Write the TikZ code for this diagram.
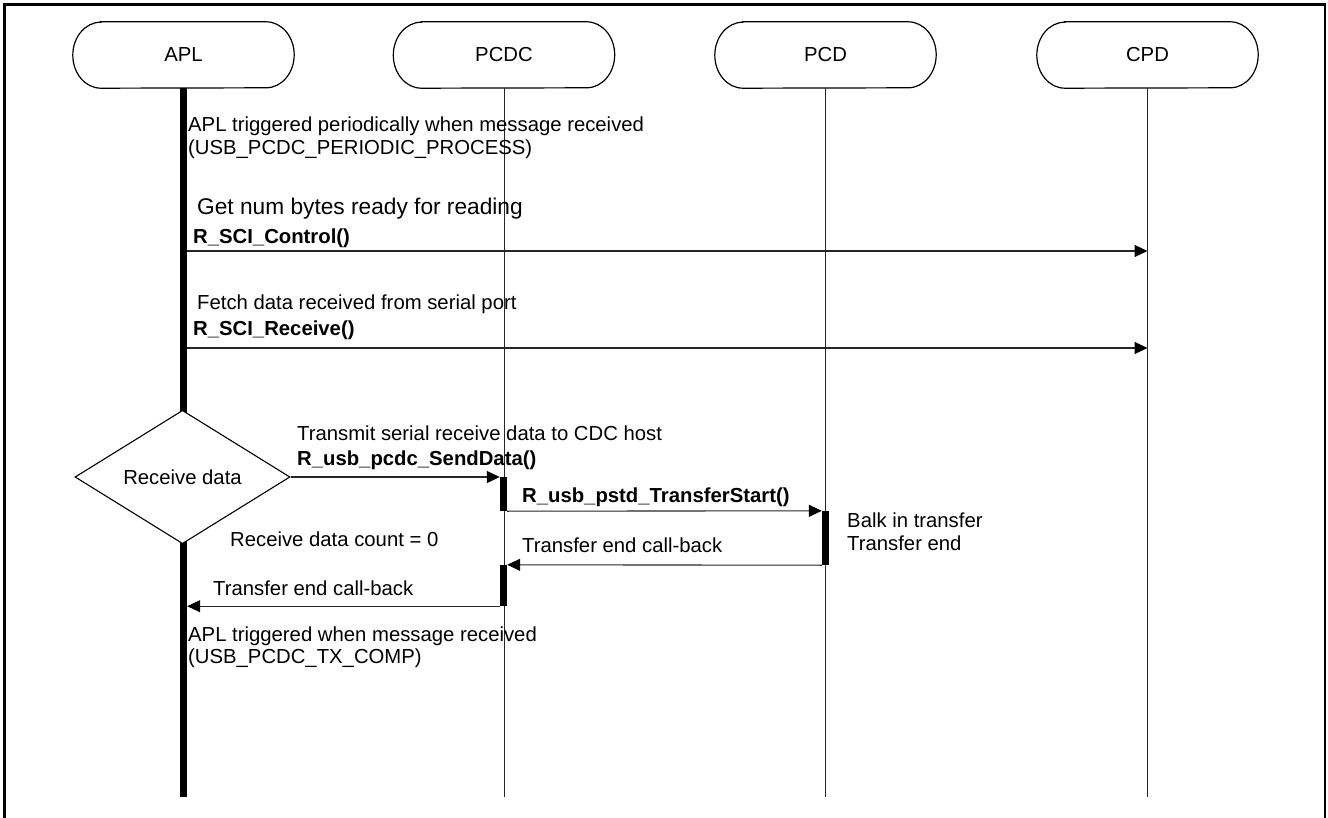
\documentclass[tikz,border=0pt]{standalone}
\usepackage{fontspec}
\setmainfont{Liberation Sans}
\usetikzlibrary{shapes.geometric,arrows.meta,calc}
\begin{document}
\begin{tikzpicture}[x=1pt,y=-1pt,
  hdr/.style={minimum width=221pt,minimum height=66pt,inner sep=0pt,font=\fontsize{20.3}{24}\selectfont},
  txt/.style={anchor=base west,inner sep=0pt,font=\fontsize{20.3}{24}\selectfont},
  bigtxt/.style={anchor=base west,inner sep=0pt,font=\fontsize{22.7}{26}\selectfont},
  btxt/.style={anchor=base west,inner sep=0pt,font=\fontsize{20.3}{24}\selectfont\bfseries},
  life/.style={line width=1pt,black!85},
  msg/.style={line width=1.1pt,black!85,-{Triangle[length=13pt,width=12pt,black]}},
  act/.style={fill=black,draw=none,minimum width=7pt,inner sep=0pt},
  frame/.style={line width=2.5pt,black},
  hdrline/.style={line width=1.2pt,black}
]
\useasboundingbox (0,0) rectangle (1328,818);
\draw[frame] (4.5,830) -- (4.5,4.5) -- (1325,4.5) -- (1325,830);

% headers
\node[hdr] (apl)  at (183.5,55) {APL};
\node[hdr] (pcdc) at (504,55) {PCDC};
\node[hdr] (pcd)  at (825.5,55) {PCD};
\node[hdr] (cpd)  at (1147.5,55) {CPD};
\foreach \n in {apl,pcdc,pcd,cpd}{
  \draw[hdrline] ([xshift=28pt]\n.north west) -- ([xshift=-28pt]\n.north east)
    arc[start angle=90,end angle=-90,x radius=28pt,y radius=33pt]
    -- ([xshift=28pt]\n.south west)
    arc[start angle=270,end angle=90,x radius=28pt,y radius=33pt] -- cycle;
}

\coordinate (bot) at (0,797);
\coordinate (m1) at (0,251);
\coordinate (m2) at (0,348);

% lifelines
\draw[life] (pcdc.south) -- (pcdc.south |- bot);
\draw[life] (pcd.south) -- (pcd.south |- bot);
\draw[life] (cpd.south) -- (cpd.south |- bot);

% APL thick bars and decision
\node[act,minimum height=326pt] (aplb1) at (183.5,251) {};
\node[act,minimum height=257pt] (aplb2) at (183.5,668.5) {};
\node[diamond,draw,line width=1.1pt,minimum width=215pt,minimum height=126pt,inner sep=0pt,
      font=\fontsize{20.3}{24}\selectfont,fill=white] (dia) at (182.5,477) {Receive data};

% activation bars
\node[act,minimum height=34pt] (b1) at (503.5,494) {};
\node[act,minimum height=54pt] (b2) at (825.5,538) {};
\node[act,minimum height=41pt] (b3) at (503.5,585.5) {};

% texts
\node[txt] (t1) at (188,132) {APL triggered periodically when message received};
\node[txt] (t2) at (188,155) {(USB\_PCDC\_PERIODIC\_PROCESS)};
\node[bigtxt] (t3) at (197,215) {Get num bytes ready for reading};
\node[btxt] (t4) at (193,244) {R\_SCI\_Control()};
\node[txt] (t5) at (197,310) {Fetch data received from serial port};
\node[btxt] (t6) at (193,335) {R\_SCI\_Receive()};
\node[txt] (t7) at (297,440) {Transmit serial receive data to CDC host};
\node[btxt] (t8) at (297,465) {R\_usb\_pcdc\_SendData()};
\node[btxt] (t9) at (522,502) {R\_usb\_pstd\_TransferStart()};
\node[txt] (t10) at (847,527) {Balk in transfer};
\node[txt] (t11) at (847,550) {Transfer end};
\node[txt] (t12) at (230,546) {Receive data count = 0};
\node[txt] (t13) at (522,552) {Transfer end call-back};
\node[txt] (t14) at (213,595) {Transfer end call-back};
\node[txt] (t15) at (188,641) {APL triggered when message received};
\node[txt] (t16) at (188,663) {(USB\_PCDC\_TX\_COMP)};

% messages
\draw[msg] (aplb1.east |- m1) -- (cpd.south |- m1);
\draw[msg] (aplb1.east |- m2) -- (cpd.south |- m2);
\draw[msg] (dia.east) -- (dia.east -| b1.west);
\draw[msg] (b1.south east) -- (b2.north west);
\draw[msg] (b2.south west) -- (b3.north east);
\draw[msg] (b3.south west) -- (b3.south west -| aplb2.east);
\end{tikzpicture}
\end{document}
